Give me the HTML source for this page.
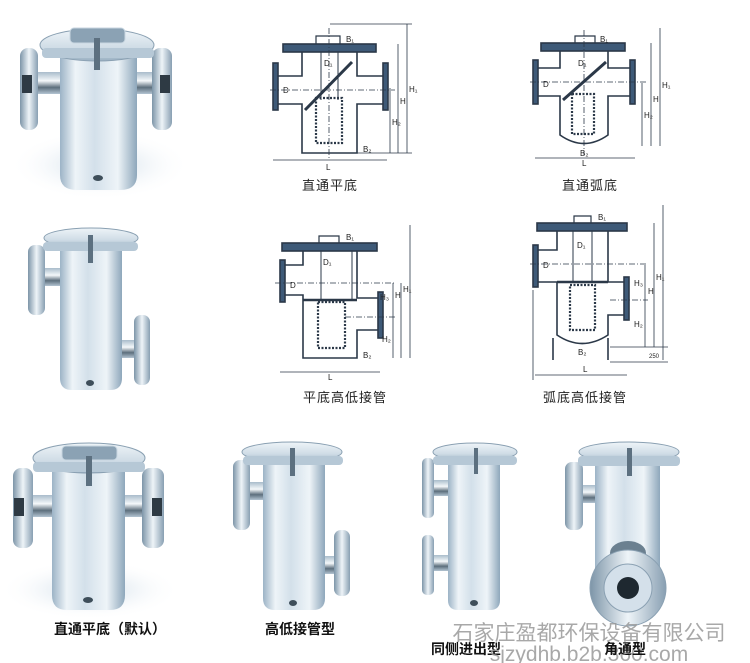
<!DOCTYPE html>
<html><head><meta charset="utf-8"><style>
html,body{margin:0;padding:0;background:#fff;}
svg{display:block;}
.lbl{font-family:"Liberation Sans","Noto Sans CJK SC",sans-serif;}
</style></head><body>
<svg width="750" height="663" viewBox="0 0 750 663" xmlns="http://www.w3.org/2000/svg">
<defs>
<linearGradient id="bd" x1="0" x2="1" y1="0" y2="0">
<stop offset="0" stop-color="#9cb3c6"/><stop offset="0.2" stop-color="#eef4f8"/><stop offset="0.45" stop-color="#d3e0ea"/><stop offset="0.75" stop-color="#eef4f8"/><stop offset="1" stop-color="#8ea7bb"/></linearGradient>
<linearGradient id="fl" x1="0" x2="1"><stop offset="0" stop-color="#7d95a8"/><stop offset="0.5" stop-color="#eef4f8"/><stop offset="1" stop-color="#889fb2"/></linearGradient>
<linearGradient id="pp" x1="0" x2="0" y1="0" y2="1"><stop offset="0" stop-color="#a9bccb"/><stop offset="0.4" stop-color="#f4f8fa"/><stop offset="0.7" stop-color="#5d6f7d"/><stop offset="1" stop-color="#b3c4d2"/></linearGradient>
<linearGradient id="ld" x1="0" x2="0" y1="0" y2="1"><stop offset="0" stop-color="#eef4f8"/><stop offset="0.6" stop-color="#cfdce6"/><stop offset="1" stop-color="#9ab0c2"/></linearGradient>
<radialGradient id="sh" cx="0.5" cy="0.5" r="0.5"><stop offset="0" stop-color="#c9d9e6"/><stop offset="1" stop-color="#fff" stop-opacity="0"/></radialGradient>
</defs>
<rect width="750" height="663" fill="#fff"/>

<!-- Photo 1 -->
<g>
<ellipse cx="100" cy="165" rx="90" ry="35" fill="url(#sh)"/>
<rect x="35" y="72" width="30" height="22" fill="url(#pp)"/>
<rect x="130" y="72" width="30" height="22" fill="url(#pp)"/>
<rect x="20" y="48" width="18" height="82" rx="8" fill="url(#fl)"/>
<rect x="152" y="48" width="20" height="82" rx="8" fill="url(#fl)"/>
<rect x="22" y="75" width="10" height="18" fill="#2e3a44"/>
<rect x="160" y="75" width="10" height="18" fill="#2e3a44"/>
<path d="M60 55 H137 V175 Q137 190 120 190 H77 Q60 190 60 175 Z" fill="url(#bd)"/>
<ellipse cx="97" cy="45" rx="57" ry="16" fill="url(#ld)" stroke="#8aa0b2"/>
<rect x="42" y="48" width="112" height="10" rx="4" fill="#b6c8d6"/>
<rect x="70" y="28" width="55" height="15" rx="4" fill="#8ba2b4" stroke="#c8d6e1"/>
<rect x="94" y="38" width="6" height="32" fill="#5c7080"/>
<ellipse cx="98" cy="178" rx="5" ry="3" fill="#3e4e5a"/>
</g>

<!-- Photo 2 -->
<g>
<rect x="40" y="268" width="25" height="18" fill="url(#pp)"/>
<rect x="118" y="340" width="25" height="18" fill="url(#pp)"/>
<rect x="28" y="245" width="17" height="70" rx="7" fill="url(#fl)"/>
<rect x="134" y="315" width="16" height="70" rx="7" fill="url(#fl)"/>
<path d="M60 250 H122 V378 Q122 390 110 390 H72 Q60 390 60 378 Z" fill="url(#bd)"/>
<ellipse cx="91" cy="238" rx="47" ry="10" fill="url(#ld)" stroke="#8aa0b2"/>
<rect x="43" y="242" width="95" height="9" rx="4" fill="#b6c8d6"/>
<rect x="88" y="235" width="5" height="28" fill="#5c7080"/>
<ellipse cx="90" cy="383" rx="4" ry="3" fill="#3e4e5a"/>
</g>

<!-- Photo row3 A -->
<g>
<ellipse cx="90" cy="590" rx="90" ry="30" fill="url(#sh)"/>
<rect x="30" y="495" width="25" height="22" fill="url(#pp)"/>
<rect x="122" y="495" width="25" height="22" fill="url(#pp)"/>
<rect x="13" y="468" width="20" height="80" rx="8" fill="url(#fl)"/>
<rect x="142" y="468" width="22" height="80" rx="8" fill="url(#fl)"/>
<rect x="14" y="498" width="10" height="18" fill="#2e3a44"/>
<rect x="152" y="498" width="10" height="18" fill="#2e3a44"/>
<path d="M52 470 H125 V595 Q125 610 110 610 H67 Q52 610 52 595 Z" fill="url(#bd)"/>
<ellipse cx="89" cy="458" rx="56" ry="15" fill="url(#ld)" stroke="#8aa0b2"/>
<rect x="33" y="462" width="112" height="10" rx="4" fill="#b6c8d6"/>
<rect x="62" y="446" width="55" height="14" rx="4" fill="#8ba2b4" stroke="#c8d6e1"/>
<rect x="86" y="456" width="6" height="30" fill="#5c7080"/>
<ellipse cx="88" cy="600" rx="5" ry="3" fill="#3e4e5a"/>
</g>

<!-- Photo row3 B -->
<g>
<rect x="248" y="482" width="20" height="18" fill="url(#pp)"/>
<rect x="320" y="556" width="20" height="18" fill="url(#pp)"/>
<rect x="233" y="460" width="17" height="70" rx="7" fill="url(#fl)"/>
<rect x="334" y="530" width="16" height="66" rx="7" fill="url(#fl)"/>
<path d="M263 460 H325 V598 Q325 610 313 610 H275 Q263 610 263 598 Z" fill="url(#bd)"/>
<ellipse cx="292" cy="452" rx="50" ry="10" fill="url(#ld)" stroke="#8aa0b2"/>
<rect x="243" y="456" width="100" height="9" rx="4" fill="#b6c8d6"/>
<rect x="290" y="448" width="5" height="28" fill="#5c7080"/>
<ellipse cx="293" cy="603" rx="4" ry="3" fill="#3e4e5a"/>
</g>

<!-- Photo row3 C -->
<g>
<rect x="430" y="480" width="20" height="16" fill="url(#pp)"/>
<rect x="430" y="555" width="20" height="16" fill="url(#pp)"/>
<rect x="422" y="458" width="12" height="60" rx="5" fill="url(#fl)"/>
<rect x="422" y="535" width="12" height="60" rx="5" fill="url(#fl)"/>
<path d="M448 462 H500 V600 Q500 610 490 610 H458 Q448 610 448 600 Z" fill="url(#bd)"/>
<ellipse cx="475" cy="452" rx="42" ry="9" fill="url(#ld)" stroke="#8aa0b2"/>
<rect x="433" y="456" width="84" height="9" rx="4" fill="#b6c8d6"/>
<rect x="474" y="448" width="4" height="26" fill="#5c7080"/>
<ellipse cx="474" cy="603" rx="4" ry="3" fill="#3e4e5a"/>
</g>

<!-- Photo row3 D -->
<g>
<rect x="575" y="485" width="25" height="18" fill="url(#pp)"/>
<rect x="565" y="462" width="18" height="68" rx="7" fill="url(#fl)"/>
<rect x="595" y="465" width="65" height="135" fill="url(#bd)"/>
<ellipse cx="629" cy="452" rx="50" ry="10" fill="url(#ld)" stroke="#8aa0b2"/>
<rect x="578" y="456" width="102" height="10" rx="4" fill="#b6c8d6"/>
<rect x="627" y="448" width="5" height="28" fill="#5c7080"/>
<ellipse cx="628" cy="553" rx="18" ry="12" fill="#6b8090"/>
<circle cx="628" cy="588" r="38" fill="url(#fl)" stroke="#8aa0b2"/>
<circle cx="628" cy="588" r="24" fill="#d4e0ea" stroke="#8aa0b2"/>
<circle cx="628" cy="588" r="11" fill="#1e2830"/>
</g>

<!-- Drawing 1: 直通平底 -->
<g stroke="#2b3848" fill="none" stroke-width="1.6">
<rect x="283" y="44" width="93" height="8" fill="#3e5a78"/>
<path d="M302 52 V76 H278 M278 104 H302 V153 H357 V104 H383 M383 76 H357 V52"/>
<rect x="273" y="63" width="5" height="47" fill="#3e5a78"/>
<rect x="383" y="63" width="5" height="47" fill="#3e5a78"/>
<rect x="316" y="98" width="26" height="45" stroke-dasharray="2 1.5" stroke-width="2.2"/>
<line x1="321" y1="52" x2="321" y2="100" stroke-width="1"/><line x1="338" y1="52" x2="338" y2="100" stroke-width="1"/>
<line x1="305" y1="110" x2="352" y2="62" stroke-width="3"/>
<path d="M316 44 V36 H340 V44" stroke-width="1.2"/>
<g stroke-width="0.8"><line x1="407" y1="24" x2="407" y2="153"/><line x1="398" y1="44" x2="398" y2="153"/><line x1="390" y1="88" x2="390" y2="153"/><line x1="273" y1="160" x2="387" y2="160"/><line x1="270" y1="90" x2="395" y2="90" stroke-dasharray="6 2 1 2"/><line x1="329" y1="28" x2="329" y2="158" stroke-dasharray="6 2 1 2"/><line x1="330" y1="24" x2="412" y2="24"/><line x1="357" y1="153" x2="412" y2="153"/></g>
</g>
<g class="lbl" font-size="8" fill="#222">
<text x="283" y="93">D</text><text x="324" y="66">D₁</text><text x="346" y="42">B₁</text><text x="363" y="152">B₂</text><text x="409" y="92">H₁</text><text x="400" y="104">H</text><text x="392" y="125">H₂</text><text x="326" y="170">L</text>
</g>
<text class="lbl" x="330" y="190" font-size="13" fill="#222" text-anchor="middle" letter-spacing="1">直通平底</text>

<!-- Drawing 2: 直通弧底 -->
<g stroke="#2b3848" fill="none" stroke-width="1.6">
<rect x="541" y="43" width="84" height="8" fill="#3e5a78"/>
<path d="M560 51 V68 H538 M538 96 H560 V135 Q584 152 608 135 V96 H630 M630 68 H608 V51"/>
<rect x="533" y="60" width="5" height="44" fill="#3e5a78"/>
<rect x="630" y="60" width="5" height="44" fill="#3e5a78"/>
<rect x="572" y="94" width="22" height="40" stroke-dasharray="2 1.5" stroke-width="2.2"/>
<line x1="563" y1="100" x2="606" y2="62" stroke-width="3"/>
<path d="M575 43 V36 H595 V43" stroke-width="1.2"/>
<g stroke-width="0.8"><line x1="660" y1="28" x2="660" y2="146"/><line x1="651" y1="43" x2="651" y2="146"/><line x1="642" y1="83" x2="642" y2="146"/><line x1="535" y1="158" x2="635" y2="158"/><line x1="530" y1="82" x2="648" y2="82" stroke-dasharray="6 2 1 2"/><line x1="584" y1="30" x2="584" y2="155" stroke-dasharray="6 2 1 2"/></g>
</g>
<g class="lbl" font-size="8" fill="#222">
<text x="543" y="87">D</text><text x="578" y="66">D₁</text><text x="600" y="42">B₁</text><text x="580" y="156">B₂</text><text x="662" y="88">H₁</text><text x="653" y="102">H</text><text x="644" y="118">H₂</text><text x="582" y="166">L</text>
</g>
<text class="lbl" x="590" y="190" font-size="13" fill="#222" text-anchor="middle" letter-spacing="1">直通弧底</text>

<!-- Drawing 3: 平底高低接管 -->
<g stroke="#2b3848" fill="none" stroke-width="1.6">
<rect x="282" y="243" width="95" height="8" fill="#3e5a78"/>
<path d="M303 251 V265 H285 M285 295 H303 V358 H357 V330 H378 M378 298 H357 V251"/>
<rect x="280" y="260" width="5" height="42" fill="#3e5a78"/>
<rect x="378" y="292" width="5" height="46" fill="#3e5a78"/>
<line x1="303" y1="300" x2="357" y2="300" stroke-width="2.5"/>
<rect x="318" y="302" width="27" height="46" stroke-dasharray="2 1.5" stroke-width="2.2"/>
<line x1="321" y1="251" x2="321" y2="300" stroke-width="1"/><line x1="352" y1="251" x2="352" y2="300" stroke-width="1"/>
<path d="M319 243 V236 H339 V243" stroke-width="1.2"/>
<g stroke-width="0.8"><line x1="410" y1="225" x2="410" y2="358"/><line x1="401" y1="283" x2="401" y2="358"/><line x1="393" y1="283" x2="393" y2="358"/><line x1="280" y1="372" x2="380" y2="372"/><line x1="275" y1="283" x2="395" y2="283" stroke-dasharray="6 2 1 2"/><line x1="345" y1="317" x2="395" y2="317" stroke-dasharray="6 2 1 2"/></g>
</g>
<g class="lbl" font-size="8" fill="#222">
<text x="290" y="288">D</text><text x="323" y="265">D₁</text><text x="346" y="240">B₁</text><text x="363" y="358">B₂</text><text x="403" y="292">H₁</text><text x="395" y="298">H</text><text x="380" y="300">H₃</text><text x="382" y="342">H₂</text><text x="328" y="380">L</text>
</g>
<text class="lbl" x="345" y="402" font-size="13" fill="#222" text-anchor="middle" letter-spacing="1">平底高低接管</text>

<!-- Drawing 4: 弧底高低接管 -->
<g stroke="#2b3848" fill="none" stroke-width="1.6">
<rect x="537" y="223" width="90" height="8" fill="#3e5a78"/>
<path d="M557 231 V250 H538 M538 282 H557 V335 Q582 352 608 335 V315 H627 M627 282 H608 V231"/>
<rect x="533" y="245" width="5" height="42" fill="#3e5a78"/>
<rect x="624" y="277" width="5" height="43" fill="#3e5a78"/>
<line x1="557" y1="282" x2="608" y2="282" stroke-width="2.5"/>
<rect x="570" y="285" width="25" height="45" stroke-dasharray="2 1.5" stroke-width="2.2"/>
<line x1="573" y1="231" x2="573" y2="282" stroke-width="1"/><line x1="592" y1="231" x2="592" y2="282" stroke-width="1"/>
<line x1="553" y1="338" x2="553" y2="360"/><line x1="608" y1="338" x2="608" y2="360"/>
<path d="M574 223 V216 H591 V223" stroke-width="1.2"/>
<g stroke-width="0.8"><line x1="663" y1="205" x2="663" y2="360"/><line x1="654" y1="223" x2="654" y2="347"/><line x1="645" y1="265" x2="645" y2="347"/><line x1="535" y1="375" x2="627" y2="375"/><line x1="530" y1="264" x2="648" y2="264" stroke-dasharray="6 2 1 2"/><line x1="610" y1="300" x2="648" y2="300" stroke-dasharray="6 2 1 2"/><line x1="610" y1="347" x2="668" y2="347"/><line x1="610" y1="362" x2="668" y2="362"/><line x1="533" y1="290" x2="533" y2="380"/></g>
</g>
<g class="lbl" font-size="8" fill="#222">
<text x="543" y="268">D</text><text x="577" y="248">D₁</text><text x="598" y="220">B₁</text><text x="578" y="355">B₂</text><text x="656" y="280">H₁</text><text x="648" y="294">H</text><text x="634" y="286">H₃</text><text x="634" y="327">H₂</text><text x="649" y="358" font-size="6">250</text><text x="583" y="372">L</text>
</g>
<text class="lbl" x="585" y="402" font-size="13" fill="#222" text-anchor="middle" letter-spacing="1">弧底高低接管</text>

<!-- bottom labels -->
<text class="lbl" x="110" y="634" font-size="14" font-weight="bold" fill="#111" text-anchor="middle">直通平底（默认）</text>
<text class="lbl" x="300" y="634" font-size="14" font-weight="bold" fill="#111" text-anchor="middle">高低接管型</text>
<text class="lbl" x="589" y="640" font-size="21" fill="#9a9a9a" text-anchor="middle" opacity="0.85">石家庄盈都环保设备有限公司</text>
<text class="lbl" x="466" y="654" font-size="14" font-weight="bold" fill="#111" text-anchor="middle">同侧进出型</text>
<text class="lbl" x="589" y="661" font-size="21" fill="#9a9a9a" text-anchor="middle" opacity="0.85">sjzydhb.b2b.360.com</text>
<text class="lbl" x="625" y="654" font-size="14" font-weight="bold" fill="#111" text-anchor="middle">角通型</text>
</svg>
</body></html>
